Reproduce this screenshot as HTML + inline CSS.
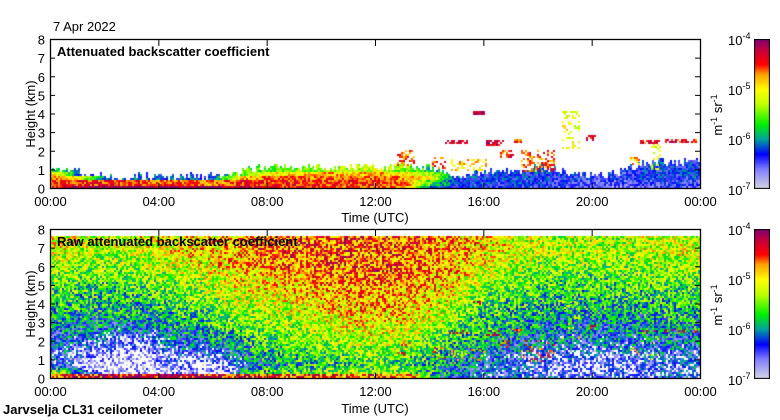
<!DOCTYPE html>
<html><head><meta charset="utf-8"><style>
html,body{margin:0;padding:0;background:#fff;}
#root{position:relative;width:780px;height:420px;overflow:hidden;font-family:"Liberation Sans",sans-serif;}
canvas{position:absolute;}
svg{position:absolute;left:0;top:0;}
text{font-family:"Liberation Sans",sans-serif;font-size:13px;fill:#000;}
</style></head><body>
<div id="root">
<canvas id="c1" width="650" height="149" style="left:50px;top:40px"></canvas>
<canvas id="c2" width="650" height="149" style="left:50px;top:230px"></canvas>
<canvas id="cb1" width="16" height="150" style="left:754px;top:39px"></canvas>
<canvas id="cb2" width="16" height="150" style="left:754px;top:229px"></canvas>
<svg width="780" height="420" id="ov">
<text x="53" y="31">7 Apr 2022</text>
<text x="57" y="56" style="font-weight:bold">Attenuated backscatter coefficient</text>
<text x="57" y="246" style="font-weight:bold">Raw attenuated backscatter coefficient</text>
<text x="375" y="222" text-anchor="middle">Time (UTC)</text>
<text x="375" y="413" text-anchor="middle">Time (UTC)</text>
<text x="3" y="414" style="font-weight:bold">Jarvselja CL31 ceilometer</text>
<text transform="translate(35,114) rotate(-90)" text-anchor="middle">Height (km)</text>
<text transform="translate(35,304) rotate(-90)" text-anchor="middle">Height (km)</text>
<text transform="translate(722,115) rotate(-90)" text-anchor="middle">m<tspan dy="-5" font-size="9">-1</tspan><tspan dy="5"> sr</tspan><tspan dy="-5" font-size="9">-1</tspan></text>
<text transform="translate(722,305) rotate(-90)" text-anchor="middle">m<tspan dy="-5" font-size="9">-1</tspan><tspan dy="5"> sr</tspan><tspan dy="-5" font-size="9">-1</tspan></text>
</svg>
</div>
<script>
const xTickLabels=["00:00","04:00","08:00","12:00","16:00","20:00","00:00"];
const xTickHours=[0,4,8,12,16,20,24];
const yTickKm=[0,1,2,3,4,5,6,7,8];
const cbExps=["-4","-5","-6","-7"];
// bottom raw field: rows = 0.5 km bins (0..7.5), columns = hours 0..23, log units (0=1e-7, 30=1e-4)
const rawRows=[
[25,26,27,27,27,27,26,25,25,25,25,24,24,20,9,7,6,6,5,4,5,5,6,6],
[20,3,1,1,2,0,1,14,15,16,17,17,18,14,10,7,6,5,4,3,3,4,5,5],
[5,1,0,0,3,1,3,9,11,12,13,14,14,13,10,8,6,5,4,3,3,4,5,5],
[6,2,0,0,4,4,6,11,12,13,14,15,15,14,11,9,7,6,5,4,4,5,6,6],
[7,5,3,3,7,7,9,12,14,15,16,17,17,15,13,11,9,8,7,6,7,7,8,8],
[8,7,5,5,8,9,11,14,15,16,17,18,18,17,14,12,10,9,8,8,8,8,9,9],
[10,9,8,8,10,11,13,15,16,17,18,19,19,18,16,13,11,10,9,9,9,9,10,10],
[11,10,10,10,12,13,15,16,17,18,19,20,20,19,17,14,12,11,10,10,10,10,11,11],
[12,11,11,11,13,14,16,17,18,19,20,21,21,20,18,15,13,12,11,11,11,11,12,12],
[13,12,12,12,14,15,17,18,19,20,21,22,22,21,19,16,14,13,12,12,12,12,13,13],
[14,13,13,14,15,16,18,19,20,21,22,22,22,21,20,17,15,14,13,13,13,13,14,14],
[15,14,14,15,16,17,19,20,21,22,23,23,23,22,21,18,16,15,14,14,14,14,15,15],
[16,15,15,16,17,18,20,21,22,23,23,24,24,23,22,19,17,16,15,15,15,15,16,16],
[17,16,16,17,18,19,21,22,23,23,24,24,24,23,22,20,18,17,16,16,16,16,17,17],
[18,17,17,18,19,20,21,22,23,24,24,24,24,23,22,20,19,18,17,17,17,17,18,18],
[19,18,18,19,20,21,22,23,24,24,24,24,24,23,22,21,20,18,17,17,17,17,18,18]];
// top processed field: per hour, values in 0.25 km bins from ground up (missing = no signal)
const procCols=[
[26,25,24,22,13],[28,25,20,9],[29,25,9],[29,25,9],[29,24,8],[29,24,8],[29,23,8],[27,25,21,15],
[26,25,24,20,14],[26,25,24,21,15],[25,25,24,22,16],[25,25,24,22,17],[24,25,24,22,18],
[23,24,23,21,16],[9,14,20,17,12],[7,7,8],[7,7,7,7],[6,7,7,7],[6,7,7,7,8],[5,6,7,7],
[4,5,6],[4,5,6,6],[5,6,7,7,7,8],[5,6,7,7,7,7]];
// cloud / aerosol layers: hours and km
const cloudStart=[12.8,14.1,14.6,15.0,14.8,15.6,16.1,16.6,17.0,17.4,18.9,19.8,21.4,21.8,22.2,22.7];
const cloudEnd=[13.4,14.6,14.9,15.4,16.1,16.0,16.7,17.1,17.4,18.6,19.5,20.1,21.7,22.5,22.5,23.8];
const cloudBase=[1.35,1.2,2.45,2.45,1.0,4.05,2.4,1.7,2.5,1.0,2.2,2.65,1.4,2.45,1.1,2.5];
const cloudTop=[2.1,1.7,2.65,2.65,1.6,4.2,2.65,2.1,2.7,2.1,4.2,2.9,1.7,2.65,2.4,2.7];
const cloudVal=[24,25,27,27,21,28,27,25,25,24,19,27,22,26,18,26];
const cloudDens=[0.45,0.5,0.75,0.75,0.3,0.8,0.75,0.5,0.6,0.4,0.3,0.7,0.5,0.75,0.3,0.75];

const W=650,H=149;
const xS=h=>h/24*W, yS=k=>H-k*H/8;
const stops=[[0,[216,216,226]],[4,[128,128,255]],[7,[0,0,255]],[10,[0,160,160]],[13,[0,240,0]],[17,[192,255,0]],[20,[255,255,0]],[23,[255,160,0]],[25,[255,0,0]],[28,[192,0,64]],[30,[128,0,112]]];
function cmap(v){v=Math.max(0,Math.min(30,v));for(let i=1;i<stops.length;i++){if(v<=stops[i][0]){const a=stops[i-1],b=stops[i],f=(v-a[0])/(b[0]-a[0]);return [0,1,2].map(j=>Math.round(a[1][j]+f*(b[1][j]-a[1][j])));}}return stops[stops.length-1][1];}
function hsh(x,y){let n=x*374761393+y*668265263;n=(n^(n>>>13))*1274126177;n=n^(n>>>16);return ((n>>>0)%1000)/1000;}
function put(img,x,y,c){if(x<0||y<0||x>=W||y>=H)return;const i=(y*W+x)*4;img.data[i]=c[0];img.data[i+1]=c[1];img.data[i+2]=c[2];img.data[i+3]=255;}
function put2(img,x,y,c){put(img,x,y,c);put(img,x+1,y,c);put(img,x,y+1,c);put(img,x+1,y+1,c);}
function drawClouds(img,thin){for(let k=0;k<cloudStart.length;k++){const x0=Math.round(xS(cloudStart[k])),x1=Math.round(xS(cloudEnd[k]));const y0=Math.round(yS(cloudTop[k])),y1=Math.round(yS(cloudBase[k]));for(let x=x0;x<=x1;x+=2)for(let y=y0;y<=y1;y+=2){const r=hsh(x+k*7,y);const p=cloudDens[k]*(thin?0.4:1);if(r<p){put2(img,x,y,cmap(cloudVal[k]+(r/p-0.5)*6));}}}}
// top panel
(function(){const ctx=document.getElementById('c1').getContext('2d');const img=ctx.createImageData(W,H);for(let i=0;i<img.data.length;i++)img.data[i]=255;
for(let x=0;x<W;x+=2){const h=x/W*24;const i=Math.min(23,Math.floor(h)),j=Math.min(23,i+1),f=h-i;const a=procCols[i],b=procCols[j];const len=a.length*(1-f)+b.length*f;const top=len*0.25+(hsh(x,1)-0.5)*0.4;
for(let y=0;y<H;y+=2){const km=(H-y)/H*8;if(km>top)continue;const bi=Math.floor(km/0.25);const va=a[Math.min(bi,a.length-1)],vb=b[Math.min(bi,b.length-1)];const v=va*(1-f)+vb*f+(hsh(x,y)-0.5)*6;put2(img,x,y,cmap(v));}}
drawClouds(img,false);ctx.putImageData(img,0,0);})();
// bottom panel
(function(){const ctx=document.getElementById('c2').getContext('2d');const img=ctx.createImageData(W,H);for(let i=0;i<img.data.length;i++)img.data[i]=255;
for(let x=0;x<W;x+=2)for(let y=0;y<H;y+=2){const km=(H-y)/H*8;if(km>7.7)continue;const h=x/W*24-0.5;const i=Math.max(0,Math.min(23,Math.floor(h))),j=Math.min(23,i+1),f=Math.max(0,Math.min(1,h-i));
let v;
if(km<0.3){v=rawRows[0][i]*(1-f)+rawRows[0][j]*f;}else{const r=(km-0.3)/0.5;const ri=Math.max(1,Math.min(15,Math.floor(r)+1)),rj=Math.min(15,ri+1),g=Math.max(0,Math.min(1,r-Math.floor(r)));
v=(rawRows[ri][i]*(1-f)+rawRows[ri][j]*f)*(1-g)+(rawRows[rj][i]*(1-f)+rawRows[rj][j]*f)*g;}
const n=(hsh(x,y)-0.5)*12;let vv=v+n;if(vv<2.5&&hsh(y,x)<0.8){continue;}put2(img,x,y,cmap(vv));}
drawClouds(img,true);ctx.putImageData(img,0,0);})();
// colorbars
['cb1','cb2'].forEach(id=>{const ctx=document.getElementById(id).getContext('2d');for(let y=0;y<150;y++){const c=cmap((150-y)/150*30);ctx.fillStyle='rgb('+c.join(',')+')';ctx.fillRect(0,y,16,1);}ctx.strokeStyle='#000';ctx.strokeRect(0.5,0.5,15,149);});
// axes
const NS='http://www.w3.org/2000/svg',ov=document.getElementById('ov');
function el(t,attrs,txt){const e=document.createElementNS(NS,t);for(const k in attrs)e.setAttribute(k,attrs[k]);if(txt!==undefined)e.textContent=txt;ov.appendChild(e);return e;}
[40,230].forEach((top,pi)=>{const bot=top+149;
const fr=el('rect',{x:50.5,y:top-0.5,width:650,height:149,fill:'none',stroke:'#000','stroke-width':1.3});


xTickHours.forEach((h,k)=>{const x=50.5+xS(h);
el('line',{x1:x,x2:x,y1:bot,y2:bot-6,stroke:'#000'});el('line',{x1:x,x2:x,y1:top,y2:top+6,stroke:'#000'});
const t=el('text',{x:x,y:bot+17,'text-anchor':'middle'},xTickLabels[k]);

});
yTickKm.forEach(k=>{const y=top-0.5+yS(k);
el('line',{x1:50,x2:55,y1:y,y2:y,stroke:'#000'});el('line',{x1:700,x2:695,y1:y,y2:y,stroke:'#000'});
const t=el('text',{x:45,y:y+5,'text-anchor':'end'},String(k));

});
cbExps.forEach((e,k)=>{const y=top-1+k*50;const t=el('text',{x:728,y:y+6});t.innerHTML='10<tspan dy="-6" font-size="9">'+e+'</tspan>';

});
});
</script>
</body></html>
